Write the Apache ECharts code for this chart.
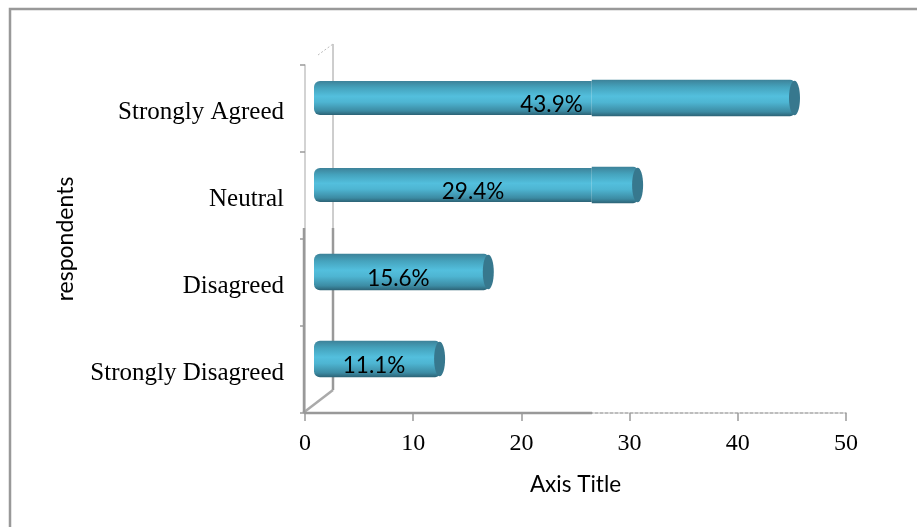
<!DOCTYPE html>
<html><head><meta charset="utf-8">
<style>html,body{margin:0;padding:0;background:#fff}#c{width:917px;height:527px}</style>
<script src="https://cdn.jsdelivr.net/npm/echarts@6/dist/echarts.min.js"></script>
</head><body><div id="c"></div>
<script>
const categories = ['Strongly Disagreed','Disagreed','Neutral','Strongly Agreed'];
const values = [11.1,15.6,29.4,43.9];
const pctLabels = ['11.1%','15.6%','29.4%','43.9%'];
const xTicks = {min:0,max:50,interval:10};

const chart = echarts.init(document.getElementById('c'),null,{renderer:'canvas'});
const depthX = 14, depthY = -10.5, barH = 36.5, capW = 5.5;
const grad = {type:'linear',x:0,y:0,x2:0,y2:1,colorStops:[
 {offset:0,color:'#3d8299'},{offset:.2,color:'#45a3bd'},{offset:.45,color:'#53bfdd'},
 {offset:.62,color:'#4eb5d2'},{offset:.88,color:'#3c8ba3'},{offset:1,color:'#2c6275'}]};
function renderBar(params,api){
  const v = api.value(0), c = api.value(1);
  const end = api.coord([v,c]), start = api.coord([0,c]);
  const x0 = start[0]+depthX, x1 = end[0]+depthX, cy = end[1]+depthY;
  const seam = api.coord([26.5,c])[0];
  const long = x1>seam;
  const h = long ? 34 : barH;
  const kids = [
    {type:'rect',shape:{x:x0-5,y:cy-h/2,width:(long?seam:x1+1)-x0+5,height:h,r:long?[6,0,0,6]:[6,5,5,6]},style:{fill:grad}}
  ];
  if (long) kids.push({type:'rect',shape:{x:seam,y:cy-barH/2,width:x1+1-seam,height:barH,r:[0,5,5,0]},style:{fill:grad}});
  kids.push({type:'ellipse',shape:{cx:x1+.5,cy:cy,rx:capW,ry:barH/2-1},style:{fill:'#37788e'}});
  kids.push({type:'text',style:{text:api.value(2),x:(x0+x1)/2-5,y:cy+7,align:'center',verticalAlign:'middle',
     font:'22.5px Lato, "Noto Sans", sans-serif',fill:'#000'}});
  return {type:'group',children:kids};
}
const line = (x1,y1,x2,y2,w,col,dash)=>({type:'line',silent:true,z:1,shape:{x1,y1,x2,y2},
  style:{stroke:col,lineWidth:w,lineDash:dash||null}});
chart.setOption({
  animation:false,
  backgroundColor:'#fff',
  grid:{left:305,top:65,width:541,height:348,containLabel:false},
  xAxis:{type:'value',min:xTicks.min,max:xTicks.max,interval:xTicks.interval,
    name:'Axis Title',nameLocation:'middle',nameGap:60,
    nameTextStyle:{fontFamily:'Lato,"Noto Sans",sans-serif',fontSize:22.5,color:'#000'},
    axisLine:{show:true,lineStyle:{color:'#a8a8a8',width:1.5,type:[3,2]}},
    axisTick:{show:true,length:8,lineStyle:{color:'#9a9a9a',width:1.5}},
    splitLine:{show:false},
    axisLabel:{fontFamily:'"Liberation Serif",serif',fontSize:24,color:'#000',margin:19}},
  yAxis:{type:'category',data:categories,offset:1,
    name:'respondents',nameLocation:'middle',nameGap:227,nameRotate:90,
    nameTextStyle:{fontFamily:'Lato,"Noto Sans",sans-serif',fontSize:23,color:'#000'},
    axisLine:{show:true,lineStyle:{color:'#c4c4c4',width:1.5}},
    axisTick:{show:true,length:5,lineStyle:{color:'#9a9a9a',width:1.5}},
    axisLabel:{fontFamily:'"Liberation Serif",serif',fontSize:25,color:'#000',margin:20,verticalAlign:'top',lineHeight:8}},
  series:[{type:'custom',renderItem:renderBar,clip:false,z:5,
    encode:{x:0,y:1},
    data:values.map((v,i)=>[v,i,pctLabels[i]])}],
  graphic:[
    {type:'rect',silent:true,z:0,shape:{x:10,y:9,width:960,height:560},style:{fill:'none',stroke:'#999',lineWidth:2.5}},
    line(333,44,333,228,1,'#9c9c9c'),
    line(333,228,333,390,2.5,'#999'),
    line(333,390,303,413,2.5,'#aaa'),
    line(318,55,333,44,1,'#bbb',[2,2]),
    line(304,228,304,413,2.5,'#999'),
    line(304,413,592,413,2.5,'#999')
  ]
});
</script></body></html>
